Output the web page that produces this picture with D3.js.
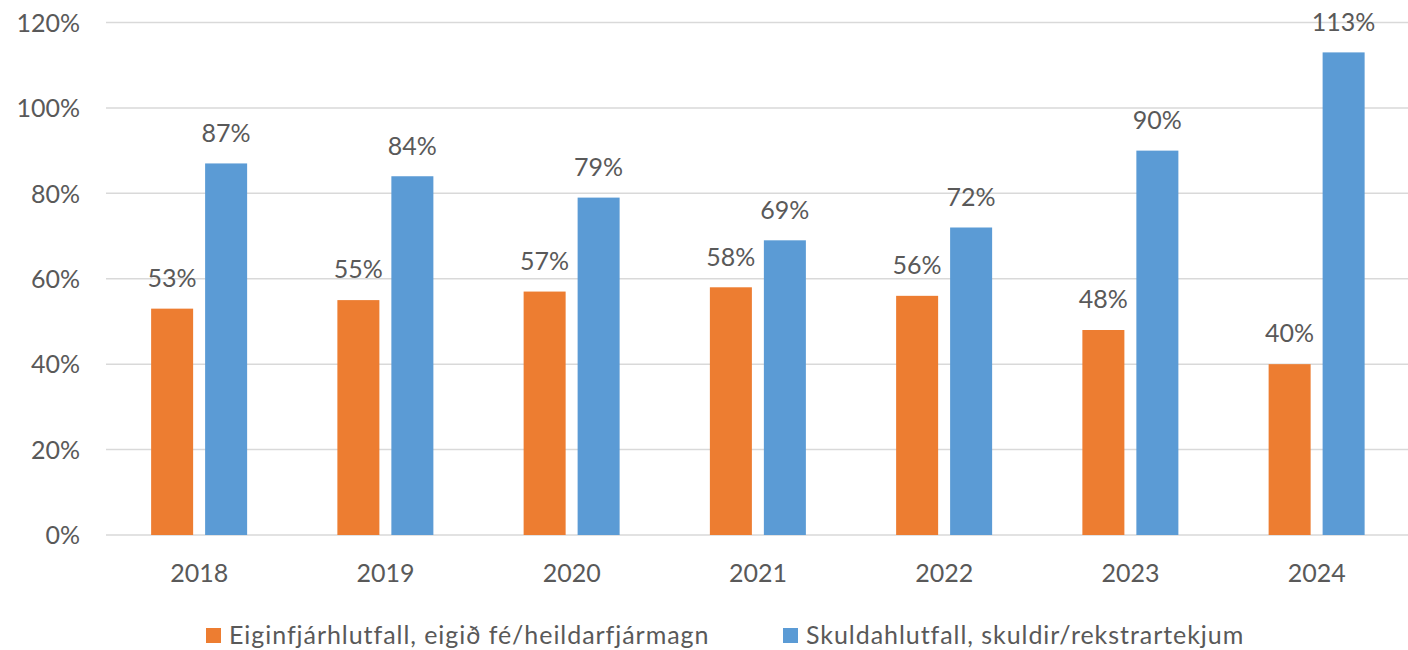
<!DOCTYPE html>
<html>
<head>
<meta charset="utf-8">
<script src="https://cdn.jsdelivr.net/npm/d3@7"></script>
<style>
  body { margin: 0; background: #fff; }
  svg text { font-family: Lato, "Open Sans", sans-serif; fill: #595959; }
</style>
</head>
<body>
<div id="chart"></div>
<script>
const years = ["2018", "2019", "2020", "2021", "2022", "2023", "2024"];
const seriesNames = ["Eiginfjárhlutfall, eigið fé/heildarfjármagn", "Skuldahlutfall, skuldir/rekstrartekjum"];
const equityRatio = [53, 55, 57, 58, 56, 48, 40];
const debtRatio = [87, 84, 79, 69, 72, 90, 113];
const yTicks = [0, 20, 40, 60, 80, 100, 120];
const colors = ["#ED7D31", "#5B9BD5"];

const width = 1408, height = 650;
const svg = d3.select("#chart").append("svg")
  .attr("width", width)
  .attr("height", height);

const x0 = d3.scaleBand().domain(years).range([106, 1409.75]);
const x1 = d3.scaleBand().domain([0, 1]).range([0, 96]).paddingInner(0.222);
const y = d3.scaleLinear().domain([0, 120]).range([535, 22.5]);

// gridlines
svg.append("g")
  .selectAll("line")
  .data(yTicks)
  .enter().append("line")
  .attr("x1", 106).attr("x2", width)
  .attr("y1", d => y(d)).attr("y2", d => y(d))
  .attr("stroke", "#d9d9d9")
  .attr("stroke-width", 1.5);

// y axis labels
const yAxis = d3.axisLeft(y).tickValues(yTicks).tickFormat(d => d + "%").tickSize(0).tickPadding(0);
const gy = svg.append("g").attr("transform", "translate(80,0)").call(yAxis);
gy.select(".domain").remove();
gy.selectAll("text").style("font-size", "25px").attr("fill", "#595959").attr("dy", "0.35em");

// x axis labels
const xAxis = d3.axisBottom(x0).tickSize(0).tickPadding(0);
const gx = svg.append("g").attr("transform", "translate(0,573)").call(xAxis);
gx.select(".domain").remove();
gx.selectAll("text").style("font-size", "25px").attr("fill", "#595959").attr("dy", "0.35em");

const data = years.map((yr, i) => ({ year: yr, vals: [equityRatio[i], debtRatio[i]] }));

const groups = svg.append("g").selectAll("g")
  .data(data)
  .enter().append("g")
  .attr("transform", d => "translate(" + (x0(d.year) + x0.bandwidth() / 2 - 48) + ",0)");

groups.selectAll("rect")
  .data(d => d.vals.map((v, s) => ({ s: s, v: v })))
  .enter().append("rect")
  .attr("x", d => x1(d.s))
  .attr("y", d => y(d.v))
  .attr("width", x1.bandwidth())
  .attr("height", d => y(0) - y(d.v))
  .attr("fill", d => colors[d.s]);

groups.selectAll("text.lbl")
  .data(d => d.vals.map((v, s) => ({ s: s, v: v })))
  .enter().append("text")
  .attr("class", "lbl")
  .attr("x", d => x1(d.s) + x1.bandwidth() / 2)
  .attr("y", d => y(d.v) - 30.5)
  .attr("dy", "0.35em")
  .attr("text-anchor", "middle")
  .style("font-size", "25px")
  .text(d => d.v + "%");

// legend
const legendX = [206, 783];
const legend = svg.append("g").selectAll("g")
  .data(seriesNames)
  .enter().append("g")
  .attr("transform", (d, i) => "translate(" + legendX[i] + ",635.5)");
legend.append("rect")
  .attr("width", 15).attr("height", 15)
  .attr("y", -7.5)
  .attr("fill", (d, i) => colors[i]);
legend.append("text")
  .attr("x", 23)
  .attr("dy", "0.35em")
  .style("font-size", "25px")
  .style("letter-spacing", "0.95px")
  .text(d => d);
</script>
</body>
</html>
